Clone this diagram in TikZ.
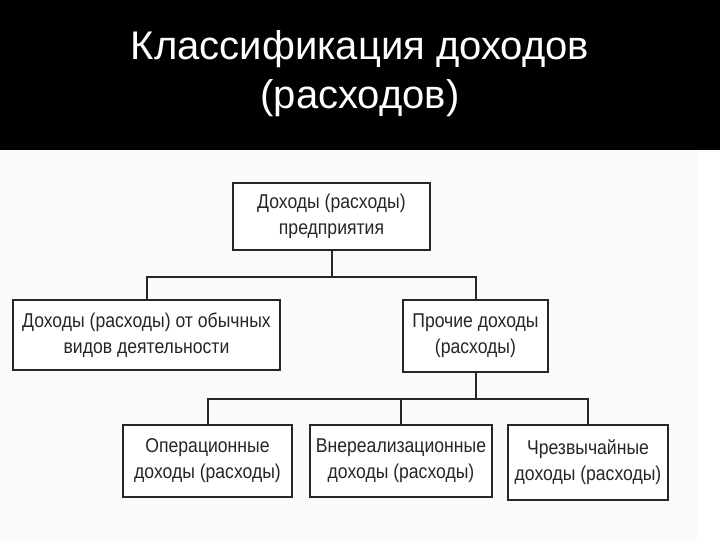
\documentclass[tikz,border=0pt]{standalone}
\usepackage{fontspec}
\setmainfont{Liberation Sans}
\newfontfamily\boxfont[FakeStretch=0.88]{Liberation Sans}
\begin{document}
\begin{tikzpicture}[x=1pt,y=-1pt,
  box/.style={draw=black!85,line width=2.2pt,fill=white,align=center,
    font=\boxfont\fontsize{20}{26}\selectfont,text=black!85,inner sep=0pt},
  link/.style={draw=black!85,line width=2pt},
  ttl/.style={text=white,font=\fontsize{40}{48}\selectfont,inner sep=0pt,anchor=base}]
\useasboundingbox (0,0) rectangle (720,540);
\fill[white] (0,0) rectangle (720,540);
\fill[black!2] (0,150) rectangle (697,540);
\fill[black] (0,0) rectangle (720,150);
\node[ttl] (t1) at (360,60) {Классификация доходов};
\node[ttl] (t2) at (360,109) {(расходов)};

\node[box,minimum width=197pt,minimum height=67pt] (top) at (331.5,216.5) {Доходы (расходы)\\предприятия};
\node[box,minimum width=267pt,minimum height=70pt] (left) at (146.5,335) {Доходы (расходы) от обычных\\видов деятельности};
\node[box,minimum width=145pt,minimum height=72pt] (right) at (475.5,336) {Прочие доходы\\(расходы)};
\node[box,minimum width=169pt,minimum height=72pt] (b1) at (207.5,461) {Операционные\\доходы (расходы)};
\node[box,minimum width=182pt,minimum height=72pt] (b2) at (401,461) {Внереализационные\\доходы (расходы)};
\node[box,minimum width=160pt,minimum height=75pt] (b3) at (588,462.5) {Чрезвычайные\\доходы (расходы)};

\coordinate (j1) at (331.5,277);
\coordinate (j2) at (475.5,399);
\draw[link] (top.south) -- (j1);
\draw[link] (j1) -| (left.north);
\draw[link] (j1) -| (right.north);
\draw[link] (right.south) -- (j2);
\draw[link] (j2) -| (b1.north);
\draw[link] (j2) -| (b2.north);
\draw[link] (j2) -| (b3.north);
\end{tikzpicture}
\end{document}
